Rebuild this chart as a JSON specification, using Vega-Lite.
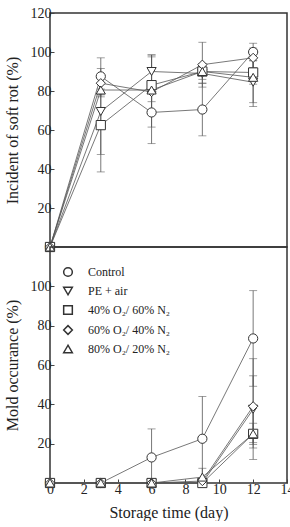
{
  "$schema": "https://vega.github.io/schema/vega-lite/v6.json",
  "background": "white",
  "padding": {"left": 3, "top": 5, "right": 4, "bottom": 0},
  "spacing": 0,
  "bounds": "flush",
  "resolve": {"scale": {"shape": "independent"}, "legend": {"shape": "independent"}},
  "config": {
    "font": "Liberation Serif",
    "view": {"stroke": "#333", "strokeWidth": 1.5},
    "axis": {
      "grid": false,
      "domain": false,
      "labelFont": "Liberation Serif",
      "labelFontSize": 14,
      "labelColor": "#222",
      "labelPadding": 3,
      "labelOverlap": false,
      "labelFlush": false,
      "labelBound": false,
      "titleFont": "Liberation Serif",
      "titleFontSize": 16,
      "titleFontWeight": "normal",
      "titleColor": "#222",
      "titlePadding": 10,
      "tickColor": "#444",
      "tickSize": -4,
      "tickWidth": 1
    },
    "legend": {
      "labelFont": "Liberation Serif",
      "labelFontSize": 12,
      "labelColor": "#222"
    }
  },
  "datasets": {
    "rot": [
      {"series": "Control", "day": 0, "v": 0, "lo": 0, "hi": 0},
      {"series": "Control", "day": 3, "v": 87.5, "lo": 78, "hi": 97},
      {"series": "Control", "day": 6, "v": 69, "lo": 53, "hi": 85},
      {"series": "Control", "day": 9, "v": 70.5, "lo": 57, "hi": 84},
      {"series": "Control", "day": 12, "v": 100, "lo": 95.5, "hi": 104.5},
      {"series": "PE + air", "day": 0, "v": 0, "lo": 0, "hi": 0},
      {"series": "PE + air", "day": 3, "v": 69.5, "lo": 47.5, "hi": 91.5},
      {"series": "PE + air", "day": 6, "v": 90, "lo": 81.5, "hi": 98.5},
      {"series": "PE + air", "day": 9, "v": 89, "lo": 84, "hi": 94},
      {"series": "PE + air", "day": 12, "v": 84.5, "lo": 72, "hi": 97},
      {"series": "40% O₂/ 60% N₂", "day": 0, "v": 0, "lo": 0, "hi": 0},
      {"series": "40% O₂/ 60% N₂", "day": 3, "v": 62.5, "lo": 38.5, "hi": 86.5},
      {"series": "40% O₂/ 60% N₂", "day": 6, "v": 83, "lo": 68.5, "hi": 97.5},
      {"series": "40% O₂/ 60% N₂", "day": 9, "v": 90, "lo": 86, "hi": 94},
      {"series": "40% O₂/ 60% N₂", "day": 12, "v": 89.5, "lo": 83.5, "hi": 95.5},
      {"series": "60% O₂/ 40% N₂", "day": 0, "v": 0, "lo": 0, "hi": 0},
      {"series": "60% O₂/ 40% N₂", "day": 3, "v": 84, "lo": 81, "hi": 87},
      {"series": "60% O₂/ 40% N₂", "day": 6, "v": 79.5, "lo": 74.5, "hi": 84.5},
      {"series": "60% O₂/ 40% N₂", "day": 9, "v": 93.5, "lo": 82, "hi": 105},
      {"series": "60% O₂/ 40% N₂", "day": 12, "v": 97, "lo": 92, "hi": 102},
      {"series": "80% O₂/ 20% N₂", "day": 0, "v": 0, "lo": 0, "hi": 0},
      {"series": "80% O₂/ 20% N₂", "day": 3, "v": 80.5, "lo": 77, "hi": 84},
      {"series": "80% O₂/ 20% N₂", "day": 6, "v": 80.5, "lo": 61.5, "hi": 98.5},
      {"series": "80% O₂/ 20% N₂", "day": 9, "v": 90, "lo": 88, "hi": 92},
      {"series": "80% O₂/ 20% N₂", "day": 12, "v": 87, "lo": 74, "hi": 100}
    ],
    "mold": [
      {"series": "Control", "day": 0, "v": 0, "lo": 0, "hi": 0},
      {"series": "Control", "day": 3, "v": 0, "lo": 0, "hi": 0},
      {"series": "Control", "day": 6, "v": 13, "lo": 0, "hi": 27.5},
      {"series": "Control", "day": 9, "v": 22.5, "lo": 1, "hi": 44},
      {"series": "Control", "day": 12, "v": 73.5, "lo": 49.2, "hi": 97.8},
      {"series": "PE + air", "day": 0, "v": 0, "lo": 0, "hi": 0},
      {"series": "PE + air", "day": 3, "v": 0, "lo": 0, "hi": 0},
      {"series": "PE + air", "day": 6, "v": 0, "lo": 0, "hi": 0},
      {"series": "PE + air", "day": 9, "v": 0, "lo": 0, "hi": 0},
      {"series": "PE + air", "day": 12, "v": 37.5, "lo": 20.5, "hi": 54.5},
      {"series": "40% O₂/ 60% N₂", "day": 0, "v": 0, "lo": 0, "hi": 0},
      {"series": "40% O₂/ 60% N₂", "day": 3, "v": 0, "lo": 0, "hi": 0},
      {"series": "40% O₂/ 60% N₂", "day": 6, "v": 0, "lo": 0, "hi": 0},
      {"series": "40% O₂/ 60% N₂", "day": 9, "v": 0, "lo": 0, "hi": 0},
      {"series": "40% O₂/ 60% N₂", "day": 12, "v": 25, "lo": 12, "hi": 38},
      {"series": "60% O₂/ 40% N₂", "day": 0, "v": 0, "lo": 0, "hi": 0},
      {"series": "60% O₂/ 40% N₂", "day": 3, "v": 0, "lo": 0, "hi": 0},
      {"series": "60% O₂/ 40% N₂", "day": 6, "v": 0, "lo": 0, "hi": 0},
      {"series": "60% O₂/ 40% N₂", "day": 9, "v": 1, "lo": 0, "hi": 2},
      {"series": "60% O₂/ 40% N₂", "day": 12, "v": 39, "lo": 17.8, "hi": 63.2},
      {"series": "80% O₂/ 20% N₂", "day": 0, "v": 0, "lo": 0, "hi": 0},
      {"series": "80% O₂/ 20% N₂", "day": 3, "v": 0, "lo": 0, "hi": 0},
      {"series": "80% O₂/ 20% N₂", "day": 6, "v": 0, "lo": 0, "hi": 0},
      {"series": "80% O₂/ 20% N₂", "day": 9, "v": 3, "lo": 0, "hi": 7.5},
      {"series": "80% O₂/ 20% N₂", "day": 12, "v": 25, "lo": 19.6, "hi": 30.4}
    ]
  },
  "vconcat": [
    {
      "width": 237,
      "height": 234,
      "data": {"name": "rot"},
      "encoding": {
        "x": {"field": "day", "type": "quantitative", "scale": {"domain": [0, 14]}, "axis": null}
      },
      "layer": [
        {
          "mark": {"type": "errorbar", "ticks": {"size": 8}, "color": "#555", "thickness": 0.8},
          "encoding": {
            "y": {
              "field": "lo", "type": "quantitative", "scale": {"domain": [0, 120]},
              "title": "Incident of soft rot (%)",
              "axis": {"values": [0, 20, 40, 60, 80, 100, 120], "labelOverlap": false, "tickCount": 7}
            },
            "y2": {"field": "hi"}
          }
        },
        {
          "mark": {"type": "line", "color": "#555", "strokeWidth": 0.8},
          "encoding": {
            "y": {"field": "v", "type": "quantitative"},
            "detail": {"field": "series"}
          }
        },
        {
          "mark": {"type": "point", "filled": true, "fill": "white", "stroke": "#333", "strokeWidth": 1, "size": 85, "opacity": 1},
          "encoding": {
            "y": {"field": "v", "type": "quantitative"},
            "shape": {
              "field": "series", "type": "nominal",
              "scale": {
                "domain": ["Control", "PE + air", "40% O₂/ 60% N₂", "60% O₂/ 40% N₂", "80% O₂/ 20% N₂"],
                "range": ["circle", "triangle-down", "square", "diamond", "triangle-up"]
              },
              "legend": null
            }
          }
        }
      ]
    },
    {
      "width": 237,
      "height": 236,
      "data": {"name": "mold"},
      "encoding": {
        "x": {"field": "day", "type": "quantitative", "scale": {"domain": [0, 14]}, "title": "Storage time (day)", "axis": {"values": [0, 2, 4, 6, 8, 10, 12, 14], "titlePadding": 8}}
      },
      "layer": [
        {
          "mark": {"type": "errorbar", "ticks": {"size": 8}, "color": "#555", "thickness": 0.8},
          "encoding": {
            "y": {
              "field": "lo", "type": "quantitative", "scale": {"domain": [0, 120]},
              "title": "Mold occurance (%)",
              "axis": {"values": [0, 20, 40, 60, 80, 100], "labelOverlap": false, "tickCount": 6}
            },
            "y2": {"field": "hi"}
          }
        },
        {
          "mark": {"type": "line", "color": "#555", "strokeWidth": 0.8},
          "encoding": {
            "y": {"field": "v", "type": "quantitative"},
            "detail": {"field": "series"}
          }
        },
        {
          "mark": {"type": "point", "filled": true, "fill": "white", "stroke": "#333", "strokeWidth": 1, "size": 85, "opacity": 1},
          "encoding": {
            "y": {"field": "v", "type": "quantitative"},
            "shape": {
              "field": "series", "type": "nominal",
              "scale": {
                "domain": ["Control", "PE + air", "40% O₂/ 60% N₂", "60% O₂/ 40% N₂", "80% O₂/ 20% N₂"],
                "range": ["circle", "triangle-down", "square", "diamond", "triangle-up"]
              },
              "legend": {
                "orient": "none",
                "legendX": 12,
                "legendY": 19,
                "title": null,
                "padding": 0,
                "symbolSize": 75,
                "rowPadding": 4,
                "labelOffset": 14,
                "encode": {
                  "symbols": {
                    "update": {
                      "fill": {"value": "white"},
                      "stroke": {"value": "#555"},
                      "strokeWidth": {"value": 0.9},
                      "opacity": {"value": 1}
                    }
                  }
                }
              }
            }
          }
        }
      ]
    }
  ]
}
